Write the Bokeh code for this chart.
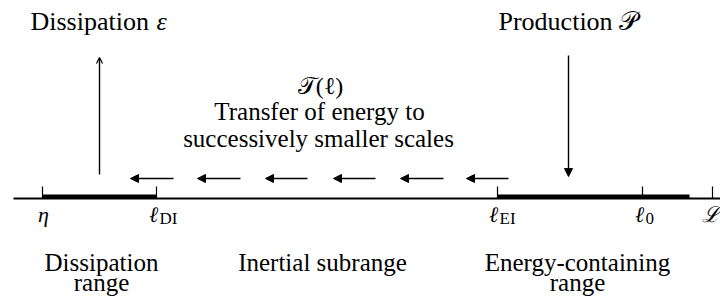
from bokeh.plotting import figure
from bokeh.models import Range1d, Arrow, NormalHead, OpenHead, ColumnDataSource
from bokeh.core.properties import value
from bokeh.embed import file_html
from bokeh.resources import INLINE

FONT = "Liberation Serif"

# scale axis (diagram coordinates)
axis_span = [13, 720]
axis_y = 198
tick_x = [42, 156, 497, 642, 712]
tick_main = ["η", "ℓ", "ℓ", "ℓ", "ℒ"]
tick_sub = ["", "DI", "EI", "0", ""]
range_bars = [(42, 156), (497, 689)]

# transfer arrows (start -> end, pointing to smaller scales)
transfer_start = [173, 240, 307, 375, 443, 508]
transfer_end = [130, 197, 265, 333, 400, 466]
transfer_y = 178

# source / sink arrows
dissip_x, dissip_from, dissip_to = 99, 174, 57
prod_x, prod_from, prod_to = 568, 55, 176

p = figure(width=720, height=298, output_backend="svg", toolbar_location=None,
           x_range=Range1d(0, 720), y_range=Range1d(298, 0),
           x_axis_type=None, y_axis_type=None, min_border=0)
p.grid.visible = False
p.outline_line_color = None
p.background_fill_color = "white"
p.border_fill_color = "white"

# main axis line
p.line(x=axis_span, y=[axis_y, axis_y], line_color="black", line_width=1.8)
# thick range bars
for a, b in range_bars:
    p.line(x=[a, b], y=[axis_y - 2, axis_y - 2], line_color="black", line_width=4)
# ticks
p.segment(x0=tick_x, y0=[axis_y - 12] * len(tick_x), x1=tick_x, y1=[axis_y] * len(tick_x),
          line_color="black", line_width=1.2)

# tick labels
main_dx = [1, -3, -4, -3, -2]
p.text(x=[t + d for t, d in zip(tick_x, main_dx)], y=[214] * 5, text=tick_main,
       text_font=value(FONT), text_font_style="italic", text_font_size="22px",
       text_align="center", text_baseline="alphabetic", text_color="black")
sub_x = [t + d + 6 for t, d in zip(tick_x, main_dx)]
p.text(x=sub_x, y=[218] * 5, text=tick_sub,
       text_font=value(FONT), text_font_size="17px",
       text_align="left", text_baseline="alphabetic", text_color="black")

# transfer arrows
src = ColumnDataSource(dict(x0=transfer_start, x1=transfer_end,
                            y0=[transfer_y] * 6, y1=[transfer_y] * 6))
p.add_layout(Arrow(end=NormalHead(size=8, fill_color="black", line_color="black"),
                   x_start="x0", y_start="y0", x_end="x1", y_end="y1",
                   source=src, line_width=1.4, line_color="black"))

# dissipation arrow (up) and production arrow (down)
p.add_layout(Arrow(end=OpenHead(size=6, line_width=1.2), x_start=dissip_x, y_start=dissip_from,
                   x_end=dissip_x, y_end=dissip_to, line_width=1.4))
p.add_layout(Arrow(end=NormalHead(size=8, fill_color="black"), x_start=prod_x, y_start=prod_from,
                   x_end=prod_x, y_end=prod_to, line_width=1.4))

# headings
p.text(x=[30], y=[21], text=["Dissipation"], text_font=value(FONT), text_font_size="26px",
       text_baseline="alphabetic", text_align="left", text_color="black")
p.text(x=[156], y=[21], text=["ε"], text_font=value(FONT), text_font_style="italic",
       text_font_size="26px", text_baseline="alphabetic", text_align="left", text_color="black")
p.text(x=[498], y=[21], text=["Production 𝒫"], text_font=value(FONT), text_font_size="26px",
       text_baseline="alphabetic", text_align="left", text_color="black")

# transfer text
p.text(x=[320], y=[85], text=["𝒯(ℓ)"], text_font=value(FONT), text_font_size="24px",
       text_baseline="alphabetic", text_align="center", text_color="black")
p.text(x=[319, 318], y=[111, 138], text=["Transfer of energy to", "successively smaller scales"],
       text_font=value(FONT), text_font_size="25px",
       text_baseline="alphabetic", text_align="center", text_color="black")

# range names
range_x = [101, 101, 322, 577, 577]
range_y = [262, 282, 262, 262, 282]
range_txt = ["Dissipation", "range", "Inertial subrange", "Energy-containing", "range"]
p.text(x=range_x, y=range_y, text=range_txt, text_font=value(FONT), text_font_size="25px",
       text_baseline="alphabetic", text_align="center", text_color="black")

open("out.html", "w").write(file_html(p, INLINE))
